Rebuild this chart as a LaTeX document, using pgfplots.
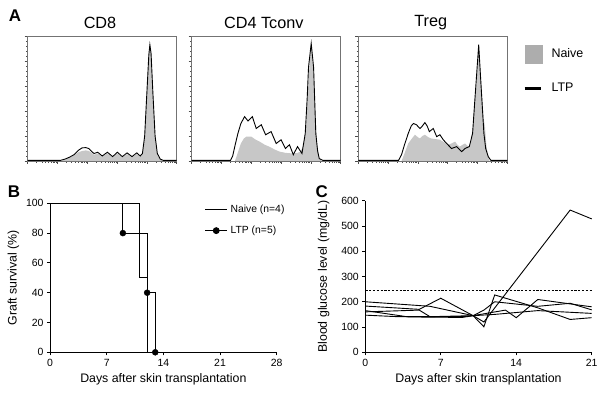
\documentclass[border=0pt]{standalone}
\usepackage{pgfplots}
\pgfplotsset{compat=1.18}
\usepackage{fontspec}
\setmainfont{Liberation Sans}
\pgfplotsset{
  hist/.style={scale only axis, width=149bp, height=125bp, anchor=south west,
    xmin=0, xmax=100, ymin=0, ymax=100,
    axis line style={black!55, line width=0.5bp},
    xtick pos=bottom, ytick pos=left, tick align=outside,
    xticklabels={}, yticklabels={},
    ytick={0,20,...,100}, minor y tick num=4,
    xtick={0,20,40,60,80,100},
    minor xtick={6.0,9.5,12.0,14.0,15.6,16.9,18.1,19.1,26.0,29.5,32.0,34.0,35.6,36.9,38.1,39.1,46.0,49.5,52.0,54.0,55.6,56.9,58.1,59.1,66.0,69.5,72.0,74.0,75.6,76.9,78.1,79.1,86.0,89.5,92.0,94.0,95.6,96.9,98.1,99.1},
    major tick length=3bp, minor tick length=1.6bp,
    every tick/.style={black!70, line width=0.45bp}},
  naive/.style={fill=black!22, draw=none},
  ltp/.style={black, line width=0.9bp},
  km/.style={scale only axis, anchor=south west,
    axis x line*=bottom, axis y line*=left, tick align=outside,
    major tick length=3bp,
    axis line style={line width=0.8bp},
    every tick/.style={black, line width=0.8bp},
    /pgf/number format/assume math mode=true,
    ticklabel style={font=\fontsize{10.5}{12}\selectfont},
    label style={font=\fontsize{12.4}{14}\selectfont},
    clip=false}
}
\begin{document}
\begin{tikzpicture}
\path (0bp,0bp) rectangle (603bp,400bp);
% ---------- Panel A ----------
\node[font=\bfseries\fontsize{17}{18}\selectfont] at (15bp,384bp) {A};
\node[font=\fontsize{16.3}{18}\selectfont] at (100bp,377.5bp) {CD8};
\node[font=\fontsize{16.3}{18}\selectfont] at (263.8bp,377.5bp) {CD4 Tconv};
\node[font=\fontsize{16.3}{18}\selectfont] at (430.8bp,377.5bp) {Treg};

\begin{axis}[hist, at={(27.7bp,239bp)}]
\addplot[naive] coordinates {(22,0)(25,1)(28,2.5)(31,4.5)(34,7)(36.5,8)(39,8.5)(41,8)(43,6.5)(44.5,5)(47,6)(50,3.5)(53.5,6)(57,3)(60.2,6)(63.5,3)(66.7,5.5)(70,3)(73.2,5.5)(75.5,3.5)(77,5.5)(78.5,19)(80,53)(81.3,84)(82,92)(82.8,85)(84,54)(85.5,19)(87,5)(89,1)(91,0)} \closedcycle;
\addplot[ltp] coordinates {(0,0.5)(22,0.5)(25,1.5)(28,3)(31,5)(34,8.5)(36.5,10.5)(39,10.7)(41,10)(43,7.5)(44.5,6)(47,7)(50,4)(53.5,7)(57,3.5)(60.2,7)(63.5,3.5)(66.7,6.5)(70,3.5)(73.2,6.5)(75.5,4)(77,6)(78.5,20)(80,55)(81.3,85)(82,93)(82.8,86)(84,55)(85.5,20)(87,6)(89,1.5)(91,0.5)(100,0.5)};
\end{axis}

\begin{axis}[hist, at={(191.7bp,239bp)}]
\addplot[naive] coordinates {(29,0)(30.5,5)(33,14)(35,18)(36.7,19.5)(40,19.5)(43,17)(45.6,15.5)(49,13)(52,11.5)(56,9)(59,7.5)(63,6.5)(68,6)(71,6.5)(73,7.5)(75,12)(76.7,25)(78,55)(79,75)(80.2,93)(81.5,75)(83,35)(84,15)(85.5,3)(87,0)} \closedcycle;
\addplot[ltp] coordinates {(0,0.5)(26,0.5)(27.5,4)(29,12)(31,22)(33,30)(35.5,35.5)(37.8,32)(40.7,35.5)(43.3,26)(46.7,29)(49.6,21)(53.3,23.5)(56.7,14)(60,17)(62.9,10)(65.6,13)(68.2,5)(71,11.5)(74,6)(76.2,22)(77.5,50)(78.4,75)(80.2,94)(81.8,75)(83.3,22)(84.5,8)(85.6,2)(88,0.5)(100,0.5)};
\end{axis}

\begin{axis}[hist, at={(358.3bp,239bp)},
  legend style={draw=none, fill=none, at={(1.107,0.726)}, anchor=west, inner sep=0pt,
     row sep=18bp, font=\fontsize{12.5}{14}\selectfont},
  legend cell align=left,
  /tikz/every odd column/.append style={column sep=7bp}]
\addplot[naive, forget plot] coordinates {(29,0)(31,6)(33.5,14)(36,18)(38,21)(40,19)(41.4,18)(43,20)(44.7,21)(47,19)(49,18)(52,17.5)(54.8,17)(57.5,15)(60.4,13)(62.5,14)(65,15.5)(66.5,13)(68,11.5)(70,13)(71.6,14)(73,12.5)(74,11.5)(75.5,16)(76.7,25)(78,45)(79.4,62)(80.8,92)(82.5,62)(84,35)(85,27.5)(86,12)(87,4)(88,0)} \closedcycle;
\addplot[ltp, forget plot] coordinates {(0,0.5)(27,0.5)(29,5)(31,13)(33.5,22)(35.5,28)(37,30)(39,29)(41.4,26)(43,28)(44.7,30.7)(46.2,28)(47.7,23.5)(50.3,26)(52.6,19.5)(54.8,21)(57,17)(59.3,14)(62.6,10)(66,11.5)(69.4,7.5)(71.6,10)(74.5,11.5)(76.7,22)(78,45)(79,62)(80.8,93)(82.3,62)(84.3,22)(85.5,10)(87.2,3.5)(89,0.5)(100,0.5)};
\addlegendimage{legend image code/.code={\fill[black!32] (0bp,-8.8bp) rectangle (17.4bp,8.8bp);}}
\addlegendentry{Naive}
\addlegendimage{legend image code/.code={\draw[black, line width=2.6bp] (0bp,0bp) -- (16.5bp,0bp);}}
\addlegendentry{LTP}
\end{axis}

% ---------- Panel B ----------
\node[font=\bfseries\fontsize{17}{18}\selectfont] at (14bp,208.3bp) {B};
\begin{axis}[km, at={(50bp,47.7bp)}, width=226.7bp, height=149bp,
  xmin=0, xmax=28, ymin=0, ymax=100,
  xtick={0,7,14,21,28}, ytick={0,20,...,100},
  xlabel={Days after skin transplantation},
  ylabel={Graft survival (\%)},
  legend style={draw=none, fill=none, at={(axis cs:19.1,88.7)}, anchor=west, inner sep=0pt,
     row sep=8bp, font=\fontsize{10.4}{12}\selectfont},
  legend cell align=left,
  /tikz/every odd column/.append style={column sep=1bp},
  legend image code/.code={\draw[mark repeat=2, mark phase=2, #1] plot coordinates {(0bp,0bp) (11bp,0bp) (22bp,0bp)};}]
\addplot[black, line width=0.8bp] coordinates {(0,100)(11,100)(11,50)(12,50)(12,0)};
\addlegendentry{Naive (n=4)}
\addplot[black, line width=0.8bp, forget plot] coordinates {(0,100)(9,100)(9,80)(12,80)(12,40)(13,40)(13,0)};
\addplot[only marks, mark=*, mark size=3bp, black, forget plot] coordinates {(9,80)(12,40)(13,0)};
\addlegendimage{black, line width=0.8bp, mark=*, mark size=3bp}
\addlegendentry{LTP (n=5)}
\end{axis}

% ---------- Panel C ----------
\node[font=\bfseries\fontsize{17}{18}\selectfont] at (321.7bp,208.3bp) {C};
\begin{axis}[km, at={(365.3bp,47.7bp)}, width=226.4bp, height=151.6bp,
  xmin=0, xmax=21, ymin=0, ymax=600,
  xtick={0,7,14,21}, ytick={0,100,...,600},
  xlabel={Days after skin transplantation},
  ylabel={Blood glucose level (mg/dL)}, ylabel shift=5bp]
\addplot[black, line width=0.8bp, dash pattern=on 2.2bp off 1.6bp] coordinates {(0,245)(21,245)};
\addplot[black, line width=0.9bp] coordinates {(0,200)(6,182)(10,145)(11,101)(12,227)(16,176)(19,130)(21,137)};
\addplot[black, line width=0.9bp] coordinates {(0,183)(5,170)(7,214)(10,145)(11,167)(12,200)(16,182)(19,194)(21,168)};
\addplot[black, line width=0.9bp] coordinates {(0,165)(4,140)(9,138)(10,145)(11,120)(19,563)(21,528)};
\addplot[black, line width=0.9bp] coordinates {(0,160)(5,167)(6,141)(9,141)(10,145)(13,167)(14,137)(16,209)(21,180)};
\addplot[black, line width=0.9bp] coordinates {(0,147)(3,141)(6,141)(10,145)(12,150)(16,165)(21,154)};
\end{axis}
\end{tikzpicture}
\end{document}
